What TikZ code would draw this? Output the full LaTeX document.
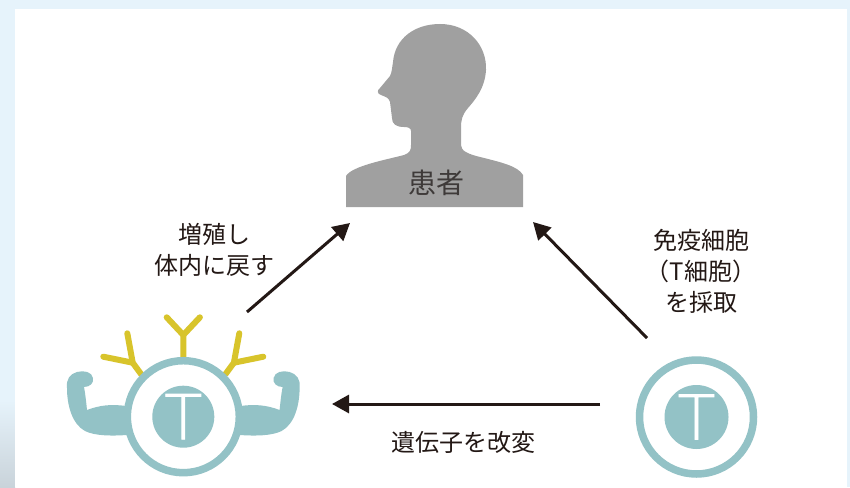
\documentclass[tikz,border=0pt]{standalone}
\usepackage{fontspec}
\setmainfont{Noto Sans CJK JP}
\newfontfamily\tfont[FakeBold=1.2]{DejaVu Sans ExtraLight}
\usetikzlibrary{arrows.meta}
\definecolor{bgblue}{HTML}{E6F3FB}
\definecolor{bggrey}{HTML}{C9D3DA}
\definecolor{teal}{HTML}{93C2C6}
\definecolor{abyellow}{HTML}{D8C42B}
\definecolor{silhouette}{HTML}{A0A0A0}
\definecolor{ink}{HTML}{231815}
\definecolor{namegrey}{HTML}{3E3A39}
\tikzset{
  flow/.style={draw=ink, line width=3pt, -{Triangle[length=17pt,width=18pt]}},
  label/.style={text=ink, font=\fontsize{24}{31}\selectfont, align=center, inner sep=0pt},
  ring/.style={draw=teal, fill=white, line width=7.5pt},
  core/.style={fill=teal},
  tletter/.style={text=white, font=\tfont\fontsize{62}{62}\selectfont, inner sep=0pt},
  antibody/.style={draw=abyellow, line width=6pt, line cap=round, line join=round},
  arm/.style={fill=teal},
}
\begin{document}
\begin{tikzpicture}[x=1pt, y=-1pt]
  % backdrop and white panel
  \fill[bgblue] (0,0) rectangle (850,487);
  \shade[top color=bgblue, bottom color=bggrey] (0,400) rectangle (15,487);
  \fill[white] (15,9) rectangle (847,487);
  \useasboundingbox (0,0) rectangle (850,487);

  % patient silhouette
  \fill[silhouette] (346,207) -- (346,176)
    .. controls (352,166) and (385,160) .. (404,155)
    .. controls (410,153) and (411,150) .. (411,145)
    -- (411,131)
    .. controls (411,128) and (408,127) .. (404,127)
    .. controls (396,127) and (392,124) .. (392,118)
    -- (390,102)
    .. controls (389,98) and (386,97) .. (381,95)
    .. controls (377,94) and (377,90) .. (380,88)
    -- (390,76)
    .. controls (392,72) and (392,68) .. (393,62)
    .. controls (395,38) and (415,24) .. (440,24)
    .. controls (468,24) and (487,45) .. (486,70)
    .. controls (485,88) and (475,100) .. (468,108)
    .. controls (462,115) and (461,120) .. (461,128)
    -- (461,145)
    .. controls (461,151) and (468,154) .. (480,157)
    .. controls (500,162) and (518,166) .. (523,175)
    -- (523,207) -- cycle;
  \node[text=namegrey, font=\fontsize{28}{28}\selectfont, inner sep=0pt] (patient) at (436.5,183) {患者};

  % engineered T cell: arms, antibodies, ring
  \begin{scope}
    \fill[arm] (126,406)
      .. controls (112,404) and (100,405) .. (87,410)
      .. controls (86,400) and (85,392) .. (84,387)
      .. controls (90,387) and (94,383) .. (93,378)
      .. controls (92,372) and (84,370) .. (77,372)
      .. controls (70,374) and (66,379) .. (67,388)
      .. controls (67,405) and (72,424) .. (85,431)
      .. controls (95,436) and (112,436) .. (127,435) -- cycle;
  \end{scope}
  \begin{scope}[shift={(366.6,0)}, xscale=-1]
    \fill[arm] (126,406)
      .. controls (112,404) and (100,405) .. (87,410)
      .. controls (86,400) and (85,392) .. (84,387)
      .. controls (90,387) and (94,383) .. (93,378)
      .. controls (92,372) and (84,370) .. (77,372)
      .. controls (70,374) and (66,379) .. (67,388)
      .. controls (67,405) and (72,424) .. (85,431)
      .. controls (95,436) and (112,436) .. (127,435) -- cycle;
  \end{scope}
  \draw[antibody] (183.3,358) -- (183.3,335) -- (166.7,317.3);
  \draw[antibody] (183.3,335) -- (199.9,317.3);
  \draw[antibody] (141,374) -- (132.7,362.7) -- (127.3,333.3);
  \draw[antibody] (132.7,362.7) -- (103.3,356.7);
  \draw[antibody] (225.6,374) -- (233.9,362.7) -- (239.3,333.3);
  \draw[antibody] (233.9,362.7) -- (263.3,356.7);
  \node[ring, circle, minimum size=112pt, inner sep=0pt] (tleft) at (183.3,416.7) {};
  \node[core, circle, minimum size=62pt, inner sep=0pt] (tleftcore) at (tleft.center) {};
  \node[tletter] (tlefttext) at (tleft.center) {T};

  % harvested T cell
  \node[ring, circle, minimum size=114pt, inner sep=0pt] (tright) at (696.5,417) {};
  \node[core, circle, minimum size=64pt, inner sep=0pt] (trightcore) at (tright.center) {};
  \node[tletter] (trighttext) at (tright.center) {T};

  % cycle arrows
  \coordinate (harvestTail) at (647,338);
  \coordinate (harvestTip) at (533,222);
  \coordinate (modifyTail) at (600,404);
  \coordinate (modifyTip) at (332,404);
  \coordinate (returnTail) at (247,312);
  \coordinate (returnTip) at (350,223);
  \draw[flow] (harvestTail) -- (harvestTip);
  \draw[flow] (modifyTail) -- (modifyTip);
  \draw[flow] (returnTail) -- (returnTip);

  % step labels
  \node[label] (harvestlabel) at (701,271) {免疫細胞\\（T細胞）\\を採取};
  \node[label] (modifylabel) at (463,442) {遺伝子を改変};
  \node[label] (returnlabel) at (214,250) {増殖し\\体内に戻す};
\end{tikzpicture}
\end{document}
